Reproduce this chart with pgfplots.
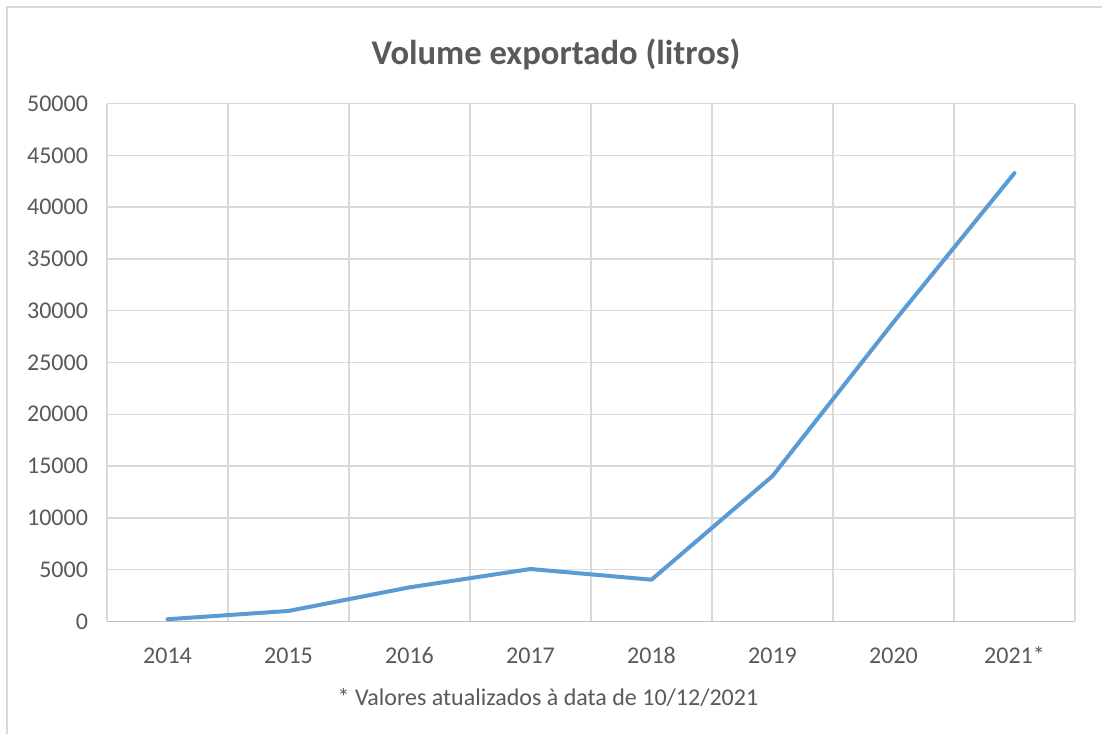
\documentclass[border=0pt]{standalone}
\usepackage{pgfplots}
\pgfplotsset{compat=1.18}
\usepackage{fontspec}
\setmainfont{Carlito}
\definecolor{txt}{HTML}{595959}
\definecolor{gridc}{HTML}{D9D9D9}
\definecolor{axc}{HTML}{BFBFBF}
\definecolor{lineblue}{HTML}{5B9BD5}
\begin{document}
\begin{tikzpicture}[x=1pt,y=1pt]
\path[use as bounding box] (0,0) rectangle (551,367);
\fill[white] (0,0) rectangle (551,367);
\draw[gridc, line width=1pt] (3.7,0) -- (3.7,363.5) -- (551,363.5);
\begin{axis}[
  at={(53.5pt,56.35pt)}, anchor=south west,
  scale only axis, width=484pt, height=258.8pt,
  xmin=-0.5, xmax=7.5, ymin=0, ymax=50000,
  xtick={0,...,7},
  xticklabels={2014,2015,2016,2017,2018,2019,2020,2021*},
  minor xtick={-0.5,0.5,...,7.5},
  ytick={0,5000,...,50000},
  scaled y ticks=false,
  /pgf/number format/fixed,
  /pgf/number format/1000 sep={},
  /pgf/number format/assume math mode=true,
  tick label style={font=\fontsize{12}{14}\selectfont, text=txt},
  xticklabel style={anchor=north, text height=8.5pt, text depth=2pt, yshift=-9pt},
  yticklabel style={xshift=-6pt},
  major tick length=0pt, minor tick length=0pt,
  xmajorgrids=false, xminorgrids=true, ymajorgrids=true,
  grid style={gridc, line width=0.75pt},
  minor grid style={gridc, line width=0.75pt},
  axis line style={draw=none},
]
\addplot[lineblue, line width=2pt, line join=round, line cap=round] coordinates {
(0,200) (1,1000) (2,3280) (3,5050) (4,4020) (5,14030) (6,28900) (7,43300)
};
\draw[axc, line width=0.75pt] (axis cs:-0.5,0) -- (axis cs:7.5,0);
\end{axis}
\node[text=txt, font=\fontsize{17.3}{21}\selectfont\bfseries] at (278,340) {Volume exportado (litros)};
\node[text=txt, font=\fontsize{12}{14}\selectfont] at (274,18.5) {* Valores atualizados à data de 10/12/2021};
\end{tikzpicture}
\end{document}
